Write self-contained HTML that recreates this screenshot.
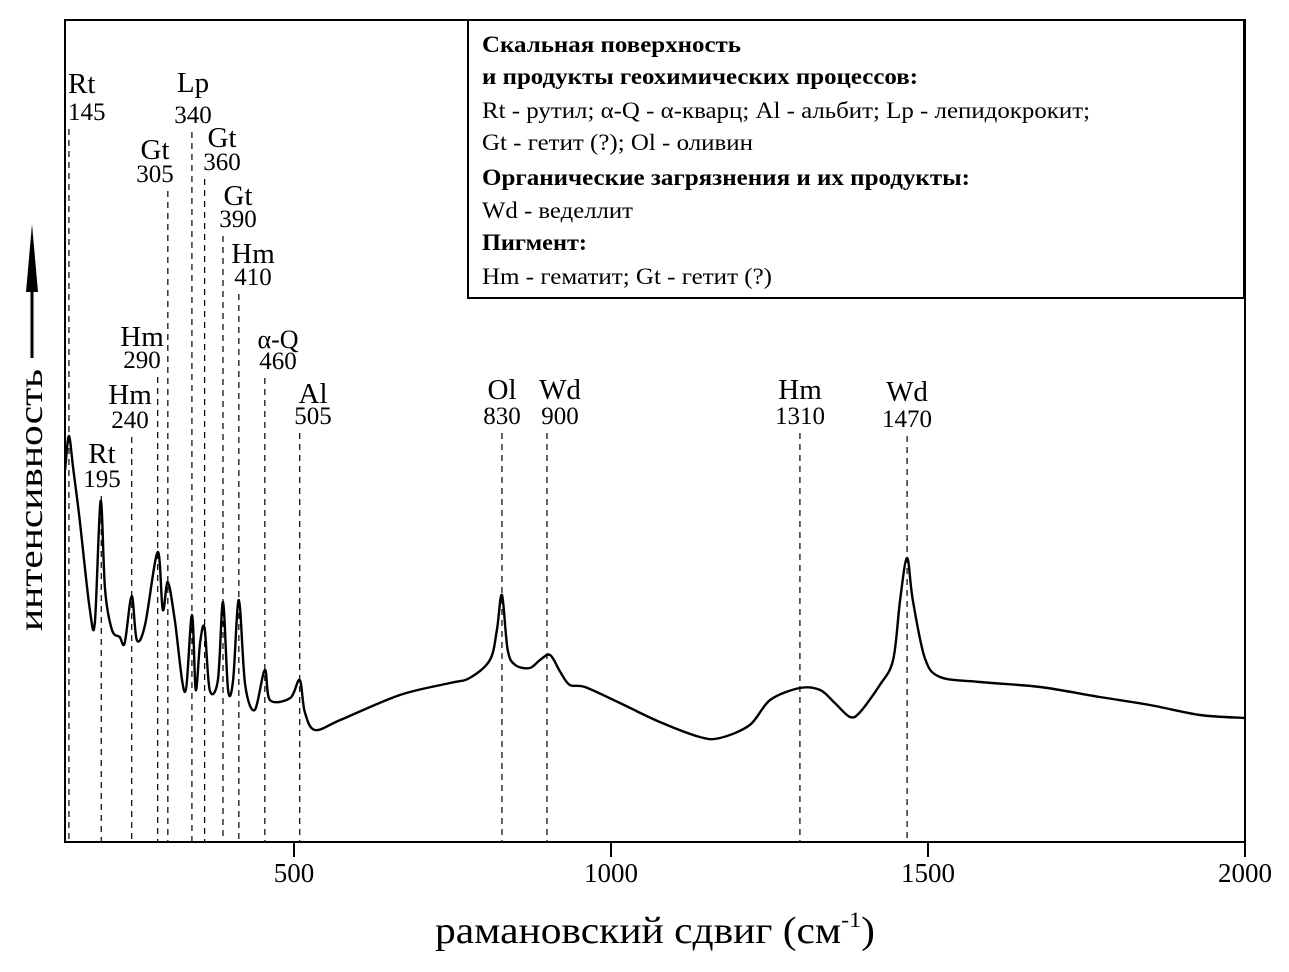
<!DOCTYPE html>
<html><head><meta charset="utf-8">
<style>
html,body{margin:0;padding:0;background:#fff;}
svg{display:block;font-family:"Liberation Serif","DejaVu Serif",serif;}
</style></head>
<body>
<svg id="chart" width="1289" height="972" viewBox="0 0 1289 972" xmlns="http://www.w3.org/2000/svg">
<rect x="0" y="0" width="1289" height="972" fill="#fff"/>
<g id="annots"></g>
<path id="spectrum" fill="none" stroke="#000" stroke-width="2.4" stroke-linejoin="round"/>
<rect x="65" y="20" width="1180" height="822" fill="none" stroke="#000" stroke-width="2"/>
<g id="xticks"></g>
<text x="655" y="943" font-size="38" text-anchor="middle" textLength="440" lengthAdjust="spacingAndGlyphs">рамановский сдвиг (см<tspan font-size="22" dy="-16">-1</tspan><tspan dy="16">)</tspan></text>
<g>
<text x="0" y="0" transform="translate(42,500) rotate(-90)" font-size="34" text-anchor="middle" textLength="262" lengthAdjust="spacingAndGlyphs">интенсивность</text>
<line x1="32" y1="358" x2="32" y2="285" stroke="#000" stroke-width="3"/>
<polygon points="32,224 26,292 38,292" fill="#000"/>
</g>
<g>
<rect x="468" y="20" width="776" height="278" fill="#fff" stroke="#000" stroke-width="2"/>
<text x="482" y="52" font-size="23" font-weight="bold" textLength="259" lengthAdjust="spacingAndGlyphs">Скальная поверхность</text>
<text x="482" y="84" font-size="23" font-weight="bold" textLength="436" lengthAdjust="spacingAndGlyphs">и продукты геохимических процессов:</text>
<text x="482" y="118" font-size="23" textLength="608" lengthAdjust="spacingAndGlyphs">Rt - рутил; α-Q - α-кварц; Al - альбит; Lp - лепидокрокит;</text>
<text x="482" y="150" font-size="23" textLength="271" lengthAdjust="spacingAndGlyphs">Gt - гетит (?); Ol - оливин</text>
<text x="482" y="185" font-size="23" font-weight="bold" textLength="488" lengthAdjust="spacingAndGlyphs">Органические загрязнения и их продукты:</text>
<text x="482" y="218" font-size="23" textLength="151" lengthAdjust="spacingAndGlyphs">Wd - веделлит</text>
<text x="482" y="250" font-size="23" font-weight="bold" textLength="105" lengthAdjust="spacingAndGlyphs">Пигмент:</text>
<text x="482" y="284" font-size="23" textLength="290" lengthAdjust="spacingAndGlyphs">Hm - гематит; Gt - гетит (?)</text>
</g>
</svg>
<script>
// spectrum data: wavenumber (cm-1) and intensity (arb. units)
const wavenumbers = [139,145,152,162,178,186,195,202,213,225,233,244,252,265,285,293,301,312,328,339,345,352,359,367,380,388,396,404,413,423,438,454,462,494,509,517,533,573,667,746,777,809,820,828,837,849,872,888,904,920,935,959,1014,1077,1140,1172,1219,1251,1298,1330,1353,1377,1393,1424,1445,1456,1467,1476,1495,1519,1582,1677,1771,1850,1929,2000];
const intensity   = [372,406,372,322,232,220,341,252,212,205,199,246,202,217,290,232,260,222,150,227,152,200,214,152,162,240,152,162,242,157,132,172,142,144,162,130,112,122,147,159,164,182,212,247,192,177,174,182,187,170,157,155,139,120,105,104,117,142,154,152,139,125,130,157,182,242,284,242,184,165,160,155,145,137,127,124];
// annotations
const peakNames  = ["Rt","Rt","Hm","Hm","Gt","Lp","Gt","Gt","Hm","α-Q","Al","Ol","Wd","Hm","Wd"];
const peakValues = ["145","195","240","290","305","340","360","390","410","460","505","830","900","1310","1470"];
const peakLineAt = [145,196,244,285,301,339,359,388,413,454,509,828,899,1298,1467];
const xTicks = [500,1000,1500,2000];

const X0=65, X1=1245, Y0=842, Y1=20;
function xScale(v){return 294 + (v-500)*(1245-294)/1500;}
function yScale(v){return Y0 - v;}

(function(){
  const p = wavenumbers.map((w,i)=>[xScale(w), yScale(intensity[i])]);
  let d = "M"+p[0][0].toFixed(1)+","+p[0][1].toFixed(1);
  for(let i=0;i<p.length-1;i++){
    const a=p[Math.max(i-1,0)], b=p[i], c=p[i+1], e=p[Math.min(i+2,p.length-1)];
    const t=0.16;
    const c1=[b[0]+(c[0]-a[0])*t, b[1]+(c[1]-a[1])*t];
    const c2=[c[0]-(e[0]-b[0])*t, c[1]-(e[1]-b[1])*t];
    d+=" C"+c1[0].toFixed(1)+","+c1[1].toFixed(1)+" "+c2[0].toFixed(1)+","+c2[1].toFixed(1)+" "+c[0].toFixed(1)+","+c[1].toFixed(1);
  }
  document.getElementById('spectrum').setAttribute('d', d);
})();

const labelLayout = [
  {cx:90,ny:93,vy:120,left:68},
  {cx:102,ny:463,vy:487},
  {cx:130,ny:404,vy:428},
  {cx:142,ny:346,vy:368},
  {cx:155,ny:159,vy:182},
  {cx:193,ny:92,vy:123},
  {cx:222,ny:147,vy:170},
  {cx:238,ny:205,vy:227},
  {cx:253,ny:263,vy:285},
  {cx:278,ny:348,vy:369,small:true},
  {cx:313,ny:403,vy:424},
  {cx:502,ny:399,vy:424},
  {cx:560,ny:399,vy:424},
  {cx:800,ny:399,vy:424},
  {cx:907,ny:401,vy:427}
];
const NS="http://www.w3.org/2000/svg";
const ag=document.getElementById('annots');
peakNames.forEach((n,i)=>{
  const L=labelLayout[i];
  const g=document.createElementNS(NS,'g');
  
  
  const lx=xScale(peakLineAt[i]);
  const ln=document.createElementNS(NS,'line');
  
  
  ln.setAttribute('x1',lx);ln.setAttribute('x2',lx);
  ln.setAttribute('y1',L.vy+9);ln.setAttribute('y2',Y0);
  ln.setAttribute('stroke','#000');ln.setAttribute('stroke-width','1.2');
  ln.setAttribute('stroke-dasharray','6,5');
  g.appendChild(ln);
  const t1=document.createElementNS(NS,'text');
  
  
  const t2=document.createElementNS(NS,'text');
  
  
  if(L.left!==undefined){
    t1.setAttribute('x',L.left);t2.setAttribute('x',L.left);
  } else {
    t1.setAttribute('x',L.cx);t2.setAttribute('x',L.cx);
    t1.setAttribute('text-anchor','middle');t2.setAttribute('text-anchor','middle');
  }
  t1.setAttribute('y',L.ny);t2.setAttribute('y',L.vy);
  t1.setAttribute('font-size',L.small?'26':'29');
  t2.setAttribute('font-size','25');
  t1.textContent=n;t2.textContent=peakValues[i];
  g.appendChild(t1);g.appendChild(t2);
  ag.appendChild(g);
});

const xg=document.getElementById('xticks');
xTicks.forEach(v=>{
  const x=xScale(v);
  const l=document.createElementNS(NS,'line');
  
  
  l.setAttribute('x1',x);l.setAttribute('x2',x);l.setAttribute('y1',Y0);l.setAttribute('y2',Y0+15);
  l.setAttribute('stroke','#000');l.setAttribute('stroke-width','2');
  xg.appendChild(l);
  const t=document.createElementNS(NS,'text');
  
  
  t.setAttribute('x',x);t.setAttribute('y',882);
  t.setAttribute('font-size','27');t.setAttribute('text-anchor','middle');
  t.textContent=v;
  xg.appendChild(t);
});
</script>
</body></html>
